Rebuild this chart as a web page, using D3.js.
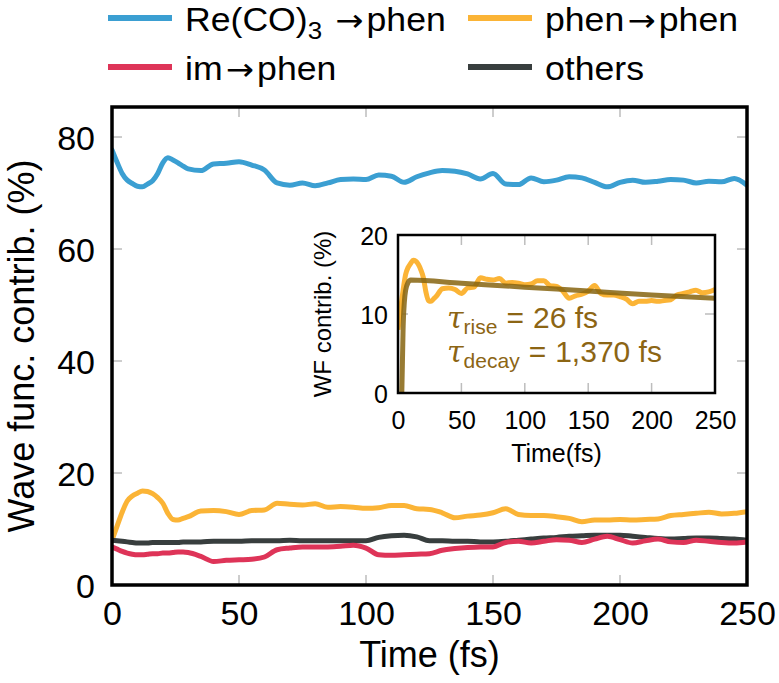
<!DOCTYPE html>
<html>
<head>
<meta charset="utf-8">
<script src="https://cdn.jsdelivr.net/npm/d3@7"></script>
<style>
  html, body { margin: 0; padding: 0; background: #fff; }
  svg { display: block; font-family: "Liberation Sans", Arial, Helvetica, sans-serif; }
</style>
</head>
<body>
<svg id="chart" width="779" height="683"></svg>
<script>
// ---------------- data ----------------
const times = [0,2,4,6,8,10,12,14,16,18,20,22,24,26,28,30,35,40,45,50,55,60,65,70,75,80,85,90,95,100,105,110,115,120,125,130,135,140,145,150,155,160,165,170,175,180,185,190,195,200,205,210,215,220,225,230,235,240,245,250];
const reCO = [77.7,75.5,73.5,72.3,71.7,71.2,71.1,71.6,72.2,73.5,75.4,76.3,75.9,75.4,74.8,74.3,74.0,75.2,75.3,75.6,75.0,74.1,71.8,71.4,71.8,71.3,71.8,72.4,72.5,72.4,73.2,73.0,71.9,72.9,73.6,74.0,73.9,73.4,72.5,73.5,71.6,71.5,72.7,72.0,72.3,72.9,72.7,71.9,71.1,71.9,72.3,71.9,72.1,72.4,72.3,71.8,72.1,72.0,72.6,71.4];
const phenPhen = [8.0,10.5,13.0,15.0,15.9,16.4,16.8,16.7,16.3,15.6,14.6,12.8,11.7,11.6,11.9,12.2,13.2,13.3,13.1,12.6,13.3,13.4,14.6,14.4,14.3,14.5,13.9,14.0,13.9,13.7,13.8,14.2,14.2,13.6,13.5,12.9,12.0,12.3,12.5,12.9,13.6,12.6,12.4,12.4,12.2,11.9,11.3,11.6,11.6,11.7,11.6,11.7,11.8,12.4,12.6,12.8,13.0,12.7,12.8,13.1];
const imPhen = [6.8,6.4,6.0,5.7,5.5,5.4,5.4,5.5,5.6,5.6,5.7,5.7,5.8,5.9,5.9,5.8,5.1,4.2,4.4,4.5,4.6,5.0,6.3,6.6,6.8,6.8,6.8,6.9,7.1,6.6,5.4,5.3,5.4,5.5,5.6,6.2,6.5,6.7,6.8,6.8,7.6,7.8,7.5,7.8,8.1,8.0,7.6,8.2,8.7,8.1,7.5,7.9,8.2,7.7,7.6,8.0,7.8,7.6,7.5,7.7];
const others = [8.0,7.9,7.8,7.7,7.6,7.5,7.5,7.5,7.6,7.6,7.6,7.6,7.6,7.6,7.7,7.7,7.7,7.8,7.8,7.8,7.9,7.9,7.9,8.0,7.9,7.9,7.9,7.9,7.9,7.9,8.5,8.8,8.9,8.6,7.9,7.9,7.8,7.8,7.7,7.7,7.8,8.0,8.2,8.4,8.5,8.7,8.8,8.9,8.9,8.9,8.7,8.5,8.3,8.2,8.3,8.4,8.4,8.3,8.2,8.0];
const fitTimes = [3,3.5,4,5,6,8,10,50,100,150,200,250];
const fitVals  = [0,4,8,11.5,13,14,14.3,13.9,13.4,12.9,12.4,12.0];

const seriesColors = ["#3b9fd2", "#fbb436", "#de3458", "#383e3e"];
const xTicks = [0, 50, 100, 150, 200, 250];
const yTicks = [0, 20, 40, 60, 80];
const insetXTicks = [0, 50, 100, 150, 200, 250];
const insetYTicks = [0, 10, 20];

// ---------------- layout ----------------
const svg = d3.select("#chart");
const M = { left: 112, right: 747, top: 107, bottom: 585 };
const x = d3.scaleLinear().domain([0, 250]).range([M.left, M.right]);
const y = d3.scaleLinear().domain([0, 85.36]).range([M.bottom, M.top]);

const defs = svg.append("defs");
defs.append("clipPath").attr("id", "clipMain")
  .append("rect").attr("x", M.left).attr("y", M.top)
  .attr("width", M.right - M.left).attr("height", M.bottom - M.top);

// gray inner ticks on all four sides
const tickCol = "#bdbdbd", tickLen = 10;
const gTicks = svg.append("g");
xTicks.forEach(t => {
  gTicks.append("line").attr("x1", x(t)).attr("x2", x(t)).attr("y1", M.bottom).attr("y2", M.bottom - tickLen)
    .attr("stroke", tickCol).attr("stroke-width", 1.5);
  gTicks.append("line").attr("x1", x(t)).attr("x2", x(t)).attr("y1", M.top).attr("y2", M.top + tickLen)
    .attr("stroke", tickCol).attr("stroke-width", 1.5);
});
yTicks.forEach(t => {
  gTicks.append("line").attr("x1", M.left).attr("x2", M.left + tickLen).attr("y1", y(t)).attr("y2", y(t))
    .attr("stroke", tickCol).attr("stroke-width", 1.5);
  gTicks.append("line").attr("x1", M.right).attr("x2", M.right - tickLen).attr("y1", y(t)).attr("y2", y(t))
    .attr("stroke", tickCol).attr("stroke-width", 1.5);
});

// lines
const line = d3.line().x((d) => x(d[0])).y((d) => y(d[1])).curve(d3.curveMonotoneX);
const mainSeries = [
  { vals: reCO, color: seriesColors[0] },
  { vals: phenPhen, color: seriesColors[1] },
  { vals: others, color: seriesColors[3] },
  { vals: imPhen, color: seriesColors[2] }
];
const gLines = svg.append("g").attr("clip-path", "url(#clipMain)");
mainSeries.forEach(s => {
  gLines.append("path")
    .datum(times.map((t, i) => [t, s.vals[i]]))
    .attr("d", line)
    .attr("fill", "none")
    .attr("stroke", s.color)
    .attr("stroke-width", 5)
    .attr("stroke-linejoin", "round")
    .attr("stroke-linecap", "round");
});

// frame
svg.append("rect").attr("x", M.left).attr("y", M.top)
  .attr("width", M.right - M.left).attr("height", M.bottom - M.top)
  .attr("fill", "none").attr("stroke", "#000").attr("stroke-width", 3.5);

// axes labels
const xAxis = d3.axisBottom(x).tickValues(xTicks).tickSize(0).tickPadding(0);
const gx = svg.append("g").attr("transform", `translate(0,${M.bottom})`).call(xAxis);
gx.select(".domain").remove();
gx.selectAll("text").attr("font-size", 34).attr("fill", "#000")
  .attr("font-family", "Liberation Sans, Arial, sans-serif")
  .attr("y", 40).attr("dy", 0);

const yAxis = d3.axisLeft(y).tickValues(yTicks).tickSize(0).tickPadding(0);
const gy = svg.append("g").attr("transform", `translate(${M.left},0)`).call(yAxis);
gy.select(".domain").remove();
gy.selectAll("text").attr("font-size", 34).attr("fill", "#000")
  .attr("font-family", "Liberation Sans, Arial, sans-serif")
  .attr("x", -17).attr("dy", "0.36em");

svg.append("text").attr("x", (M.left + M.right) / 2).attr("y", 667)
  .attr("text-anchor", "middle").attr("font-size", 36).text("Time (fs)");
svg.append("text")
  .attr("transform", `translate(34,${(M.top + M.bottom) / 2}) rotate(-90)`)
  .attr("text-anchor", "middle").attr("font-size", 36).text("Wave func. contrib. (%)");

// ---------------- legend ----------------
const arrowFont = "DejaVu Sans, sans-serif";
const legX = [108, 468], legY = [18, 67];
function legendEntry(col, row, color, build) {
  const lx = legX[col], ly = legY[row];
  svg.append("line").attr("x1", lx).attr("x2", lx + 64).attr("y1", ly).attr("y2", ly)
    .attr("stroke", color).attr("stroke-width", 6);
  const t = svg.append("text")
    .attr("transform", `translate(${lx + 77},${ly + 13}) scale(1.08,1)`)
    .attr("font-size", 33);
  build(t);
}
function arrow(t) {
  t.append("tspan").attr("font-family", arrowFont).attr("font-size", 31).attr("dx", 3).text("→");
  t.append("tspan").attr("dx", 3).text("phen");
}
legendEntry(0, 0, seriesColors[0], t => {
  t.append("tspan").text("Re(CO)");
  t.append("tspan").attr("font-size", 24).attr("dy", 8).text("3");
  t.append("tspan").attr("dy", -8).text(" ");
  arrow(t);
});
legendEntry(1, 0, seriesColors[1], t => { t.append("tspan").text("phen"); arrow(t); });
legendEntry(0, 1, seriesColors[2], t => { t.append("tspan").text("im"); arrow(t); });
legendEntry(1, 1, seriesColors[3], t => { t.append("tspan").text("others"); });

// ---------------- inset ----------------
const I = { left: 398, right: 715, top: 235, bottom: 393 };
const xi = d3.scaleLinear().domain([0, 250]).range([I.left, I.right]);
const yi = d3.scaleLinear().domain([0, 20]).range([I.bottom, I.top]);

defs.append("clipPath").attr("id", "clipInset")
  .append("rect").attr("x", I.left).attr("y", I.top)
  .attr("width", I.right - I.left).attr("height", I.bottom - I.top);

svg.append("rect").attr("x", I.left).attr("y", I.top)
  .attr("width", I.right - I.left).attr("height", I.bottom - I.top).attr("fill", "#fff");

const gi = svg.append("g");
insetXTicks.forEach(t => {
  gi.append("line").attr("x1", xi(t)).attr("x2", xi(t)).attr("y1", I.top).attr("y2", I.top + 10)
    .attr("stroke", tickCol).attr("stroke-width", 1.5);
  gi.append("line").attr("x1", xi(t)).attr("x2", xi(t)).attr("y1", I.bottom).attr("y2", I.bottom - 10)
    .attr("stroke", tickCol).attr("stroke-width", 1.5);
});
insetYTicks.forEach(t => {
  gi.append("line").attr("x1", I.left).attr("x2", I.left + 10).attr("y1", yi(t)).attr("y2", yi(t))
    .attr("stroke", tickCol).attr("stroke-width", 1.5);
  gi.append("line").attr("x1", I.right).attr("x2", I.right - 10).attr("y1", yi(t)).attr("y2", yi(t))
    .attr("stroke", tickCol).attr("stroke-width", 1.5);
});

const lineI = d3.line().x((d) => xi(d[0])).y((d) => yi(d[1])).curve(d3.curveMonotoneX);
const gil = svg.append("g").attr("clip-path", "url(#clipInset)");
gil.append("path").datum(times.map((t, i) => [t, phenPhen[i]]))
  .attr("d", lineI).attr("fill", "none").attr("stroke", seriesColors[1])
  .attr("stroke-width", 5).attr("stroke-linejoin", "round");
gil.append("path").datum(fitTimes.map((t, i) => [t, fitVals[i]]))
  .attr("d", lineI).attr("fill", "none").attr("stroke", "#86640f").attr("stroke-opacity", 0.85)
  .attr("stroke-width", 5).attr("stroke-linejoin", "round");

svg.append("rect").attr("x", I.left).attr("y", I.top)
  .attr("width", I.right - I.left).attr("height", I.bottom - I.top)
  .attr("fill", "none").attr("stroke", "#000").attr("stroke-width", 2.5);

const gix = svg.append("g").attr("transform", `translate(0,${I.bottom})`)
  .call(d3.axisBottom(xi).tickValues(insetXTicks).tickSize(0).tickPadding(0));
gix.select(".domain").remove();
gix.selectAll("text").attr("font-size", 25).attr("fill", "#000")
  .attr("font-family", "Liberation Sans, Arial, sans-serif").attr("y", 36).attr("dy", 0);

const giy = svg.append("g").attr("transform", `translate(${I.left},0)`)
  .call(d3.axisLeft(yi).tickValues(insetYTicks).tickSize(0).tickPadding(0));
giy.select(".domain").remove();
giy.selectAll("text").attr("font-size", 25).attr("fill", "#000")
  .attr("font-family", "Liberation Sans, Arial, sans-serif").attr("x", -10).attr("dy", "0.36em");

svg.append("text").attr("x", (I.left + I.right) / 2).attr("y", 462)
  .attr("text-anchor", "middle").attr("font-size", 25).text("Time(fs)");
svg.append("text")
  .attr("transform", `translate(331,${(I.top + I.bottom) / 2}) rotate(-90)`)
  .attr("text-anchor", "middle").attr("font-size", 24).text("WF contrib. (%)");

const annCol = "#8c6514";
function annotation(yb, sub, val) {
  const a = svg.append("text").attr("x", 447).attr("y", yb).attr("font-size", 30).attr("fill", annCol);
  a.append("tspan").attr("font-family", "DejaVu Serif, serif").attr("font-style", "italic").text("τ");
  a.append("tspan").attr("font-size", 21).attr("dy", 6).text(sub);
  a.append("tspan").attr("dy", -6).attr("dx", 9).text("=");
  a.append("tspan").attr("dx", 9).text(val);
}
annotation(328, "rise", "26 fs");
annotation(362, "decay", "1,370 fs");
</script>
</body>
</html>
